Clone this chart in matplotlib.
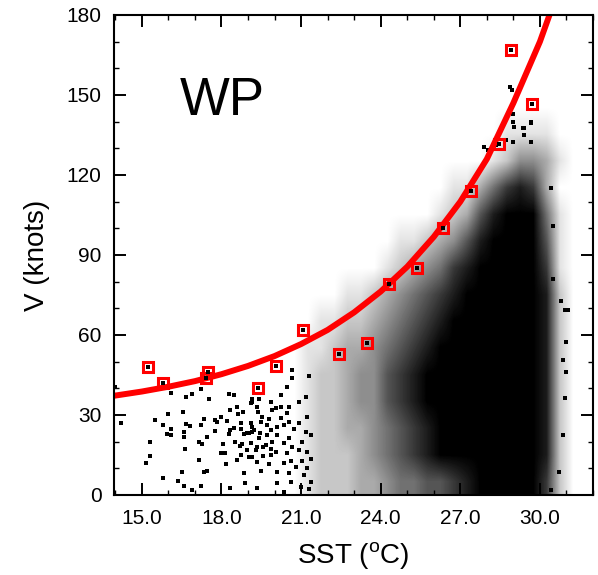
import numpy as np
import matplotlib
matplotlib.use("Agg")
import matplotlib.pyplot as plt
from matplotlib.colors import LinearSegmentedColormap
from matplotlib.ticker import MultipleLocator, FormatStrFormatter

plt.rcParams['font.family'] = ['Liberation Sans', 'DejaVu Sans']
plt.rcParams['mathtext.fontset'] = 'custom'
plt.rcParams['mathtext.rm'] = 'Liberation Sans'

# ---------------- data ----------------
# individual (sparse) storm points, SST (degC) and V (knots)
sparse_sst = [14.22, 15.51, 15.32, 15.14, 15.32, 15.79, 15.79, 15.98, 15.95, 16.10,
              16.10, 16.08, 16.65, 16.90, 16.56, 16.65, 16.81, 16.58, 16.58, 16.61,
              16.36, 16.52, 16.58, 16.90, 17.24, 17.15, 17.34, 17.44, 17.15, 17.27,
              17.21, 17.34, 17.24, 17.53, 17.46, 17.74, 17.84, 17.75, 17.97, 18.05,
              17.97, 18.13, 18.17, 18.19, 18.28, 18.49, 18.34, 18.34, 18.28, 18.49,
              18.51, 18.34, 18.57, 18.62, 18.72, 18.82, 18.75, 18.85, 18.77, 18.70,
              18.72, 18.60, 18.85, 18.88, 19.14, 19.16, 19.10, 19.10, 19.16, 18.97,
              19.04, 19.14, 19.22, 19.35, 19.41, 19.37, 19.54, 19.48, 19.45, 19.32,
              19.41, 19.56, 19.12, 19.29, 18.95, 19.02, 19.16, 19.35, 19.58, 19.48,
              19.79, 19.85, 19.88, 19.92, 19.85, 19.79, 19.73, 19.85, 19.73, 19.92,
              19.67, 19.35, 14.00,
              20.67, 20.48, 20.23, 20.04, 20.23, 20.55, 20.48, 20.92, 21.17, 21.30,
              20.67, 20.23, 20.11, 20.36, 20.55, 20.92, 20.73, 21.21, 21.17, 21.36,
              20.11, 20.55, 20.36, 20.67, 21.05, 20.92, 20.04, 20.48, 21.24, 20.61,
              21.05, 21.36, 20.36, 20.80, 21.24, 20.11, 20.55, 21.11, 20.11, 20.61,
              21.36, 20.99, 20.36, 21.30,
              28.89, 28.94, 29.00, 28.98, 29.67, 29.39, 27.91, 28.03, 28.35, 29.04,
              29.35, 29.67, 29.39, 28.98, 29.67, 28.72,
              30.42, 30.49, 30.80, 31.05, 30.93, 30.49, 30.99, 30.86, 30.93, 30.86,
              30.70, 30.42, 30.99]
sparse_v = [27.1, 28.1, 19.8, 12.0, 14.8, 6.5, 26.3, 30.5, 22.8, 22.5,
            38.4, 24.6, 36.9, 37.9, 31.0, 26.5, 25.9, 23.8, 21.6, 17.1,
            5.3, 8.5, 3.4, 1.8, 3.4, 13.1, 8.8, 9.0, 20.0, 19.3,
            26.3, 28.4, 39.6, 35.9, 21.6, 28.0, 27.5, 24.0, 29.4, 19.1,
            15.9, 15.6, 11.5, 27.8, 37.9, 37.5, 31.9, 24.4, 22.8, 25.3,
            20.0, 2.5, 33.1, 30.4, 26.9, 31.3, 24.6, 22.9, 19.3, 18.5,
            15.0, 13.1, 8.4, 4.6, 35.0, 35.9, 34.4, 26.9, 25.6, 23.1,
            23.4, 23.8, 24.4, 33.1, 35.9, 31.0, 29.4, 27.5, 23.1, 18.1,
            21.3, 18.1, 19.6, 16.9, 16.9, 14.4, 14.4, 12.5, 14.6, 9.1,
            11.5, 15.0, 17.3, 31.9, 35.0, 28.5, 26.3, 24.4, 22.5, 20.0,
            18.8, 2.5, 40.6,
            46.9, 40.6, 37.5, 32.5, 33.1, 33.1, 30.6, 35.0, 36.9, 44.8,
            43.8, 28.8, 25.6, 26.3, 27.3, 26.9, 24.6, 29.4, 23.8, 22.5,
            22.5, 21.3, 19.4, 18.1, 19.8, 16.9, 16.3, 15.6, 16.3, 12.8,
            12.8, 13.5, 11.9, 10.6, 10.0, 8.8, 8.1, 7.5, 4.4, 5.0,
            5.0, 3.1, 1.3, 2.3,
            153.1, 152.0, 143.0, 140.0, 140.0, 137.5, 130.6, 129.4, 131.3, 138.0,
            137.5, 139.4, 135.0, 132.5, 132.5, 133.0,
            115.0, 101.0, 72.7, 69.4, 69.4, 81.0, 57.5, 50.6, 36.3, 22.5,
            8.8, 1.9, 46.0]

# density of the dense cloud (0 = empty .. 9 = solid black)
# columns: SST bin centres 20.75 .. 31.25 step 0.5 ; rows: V bin centres 145 .. 5
dens_sst = [20.75 + 0.5 * i for i in range(22)]
dens_v = [145, 135, 125, 115, 105, 95, 85, 75, 65, 55, 45, 35, 25, 15, 5]
dens_rows = [
    "0000000000000000000000",
    "0000000000000000111100",
    "0000000000000001244310",
    "0000000000001135787300",
    "0000000000012368999510",
    "0000000011234689999610",
    "0000000123457899999710",
    "0000112345678999999820",
    "0011223456789999999820",
    "0112334567899999999820",
    "0122344678999999999820",
    "0122344678999999999820",
    "0122334567899999999820",
    "0122234567899999999820",
    "0122233455667899999720",
]

# maximum intensity per SST bin (red squares)
max_sst = [15.24, 15.80, 17.40, 17.50, 19.39, 20.06, 21.08, 22.43, 23.49, 24.33,
           25.37, 26.35, 27.42, 28.47, 28.91, 29.70]
max_v = [48.1, 41.9, 44.0, 46.0, 40.2, 48.4, 61.9, 52.9, 57.0, 79.0,
         85.0, 100.2, 114.0, 131.6, 167.0, 146.5]

# upper-bound curve
curve_sst = [13.94, 15.0, 16.0, 17.0, 18.0, 19.0, 20.0, 21.0, 22.0, 23.0,
             24.0, 25.0, 26.0, 27.0, 28.0, 29.0, 30.0, 30.36]
curve_v = [37.2, 38.8, 40.6, 42.7, 45.3, 48.4, 52.1, 56.6, 61.9, 68.5,
           76.3, 85.6, 96.8, 110.0, 126.0, 147.0, 170.0, 180.0]

x_ticks = [15.0, 18.0, 21.0, 24.0, 27.0, 30.0]
y_ticks = [0, 30, 60, 90, 120, 150, 180]

# ---------------- figure ----------------
fig = plt.figure(figsize=(5.98, 5.75), dpi=100)
ax = fig.add_axes([114 / 598, 80 / 575, 479 / 598, 480 / 575])

grid = np.array([[int(c) for c in row] for row in dens_rows], dtype=float)
cmap = LinearSegmentedColormap.from_list("wb", ["#ffffff", "#000000"])
dx = dens_sst[1] - dens_sst[0]
dy = dens_v[0] - dens_v[1]
ax.imshow(grid, cmap=cmap, vmin=0, vmax=9, interpolation="bilinear",
          extent=[dens_sst[0] - dx / 2, dens_sst[-1] + dx / 2,
                  dens_v[-1] - dy / 2, dens_v[0] + dy / 2],
          origin="upper", aspect="auto", zorder=1)

ax.plot(sparse_sst, sparse_v, linestyle="none", marker="s", ms=2.6,
        mew=0, color="black", zorder=2)
ax.plot(max_sst, max_v, linestyle="none", marker="s", ms=2.4,
        mew=0, color="black", zorder=5)

ax.plot(curve_sst, curve_v, color="#ff0000", lw=4.3, zorder=3,
        solid_capstyle="butt", solid_joinstyle="round")

ax.plot(max_sst, max_v, linestyle="none", marker="s", ms=6.8,
        mfc="none", mec="#ff0000", mew=2.2, zorder=4)

ax.text(16.43, 142.5, "WP", fontsize=38, ha="left", va="baseline")

ax.set_xlim(13.95, 32.0)
ax.set_ylim(0, 180)
ax.set_xticks(x_ticks)
ax.set_yticks(y_ticks)
ax.xaxis.set_major_formatter(FormatStrFormatter("%.1f"))
ax.xaxis.set_minor_locator(MultipleLocator(1.0))
ax.yaxis.set_minor_locator(MultipleLocator(10))

ax.tick_params(which="both", direction="in", top=True, right=True,
               labelsize=15)
ax.tick_params(which="major", length=8.6, width=1.4)
ax.tick_params(which="minor", length=3.6, width=1.0)
ax.tick_params(axis="x", which="major", pad=10)
ax.tick_params(axis="y", which="major", pad=9)
for s in ax.spines.values():
    s.set_linewidth(1.5)
    s.set_zorder(6)

ax.set_xlabel(r"SST ($^{\mathrm{o}}$C)", fontsize=20, labelpad=9)
ax.set_ylabel("V (knots)", fontsize=20, labelpad=12)

fig.savefig("out.png", dpi=100)
